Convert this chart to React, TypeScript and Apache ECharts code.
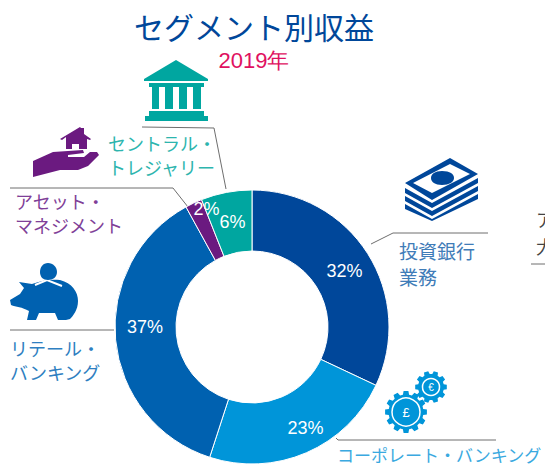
import React, { useEffect, useRef } from "react";
import * as echarts from "echarts";

const title = "セグメント別収益";
const subtitle = "2019年";
const categories = ["投資銀行業務", "コーポレート・バンキング", "リテール・バンキング", "アセット・マネジメント", "セントラル・トレジャリー"];
const values = [32, 23, 37, 2, 6];
const colors = ["#00479a", "#0095d9", "#0061b0", "#6b1a80", "#00a6a0"];

const F = '"Noto Sans CJK JP", "Noto Sans", sans-serif';
const labelOffsets: number[][] = [[0, 3], [10, 1], [2, -10], [1, -19], [1, 3]];

const bankD = "M144 79 L176 60 L208 79 L208 81 L144 81 Z M149 83 L204 83 L204 87 L149 87 Z M152 87 L159 87 L159 109 L152 109 Z M165 87 L173 87 L173 109 L165 109 Z M179 87 L187 87 L187 109 L179 109 Z M193 87 L201 87 L201 109 L193 109 Z M149 111 L204 111 L204 116 L149 116 Z M145 116 L208 116 L208 121 L145 121 Z";
const houseD = "M33 177 L33 161 L53 152 L83 150 L84 153 L68 155 L68 157 L84 157 L90 152 L97 152 L99 155 L88 166 L78 170 L60 170 Z M60 139 L80 127 L81 128 L84 128 L84 134 L91 139 L90 140 L87 139 L87 149 L66 149 L66 137 L62 140 Z M72 144 L72 149 L79 149 L79 144 Z";
const moneyD = "M405 183 L450 158 L478 174 L432 200 Z M413 183 L432 193 L470 174 L450 164 Z M405 188 L432 203 L478 178 L478 183 L432 208 L405 193 Z M405 196 L432 211 L478 186 L478 191 L432 216 L405 201 Z M405 204 L432 219 L478 194 L478 199 L432 221 L405 209 Z";
const moneyOvalD = "M442 171 C450 171 454 174 454 178 C454 182 449 185 442 185 C435 185 431 182 431 178 C431 174 435 171 442 171 Z";
const pigD = "M10 300 L20 294 L24 288 L19 282 L32 284 C42 280 52 279 60 280 C72 283 78 292 78 301 C78 310 73 316 70 319 L66 320 L58 320 L55 313 L39 313 L36 320 L27 320 L29 311 C22 307 16 307 11 305 Z";
const pigCoinD = "M48 263 C53 263 57 267 57 272 C57 277 53 280 48 280 C43 280 40 277 40 272 C40 267 43 263 48 263 Z";

function gear(cx: number, cy: number, rIn: number, rOut: number, teeth: number) {
  const p: string[] = [];
  for (let i = 0; i < teeth; i++) {
    const a = (i / teeth) * Math.PI * 2;
    const w = Math.PI / teeth / 1.6;
    [[rIn, a - w * 1.1], [rOut, a - w * 0.7], [rOut, a + w * 0.7], [rIn, a + w * 1.1]].forEach(([r, t]) => {
      p.push(`${(cx + r * Math.cos(t)).toFixed(1)} ${(cy + r * Math.sin(t)).toFixed(1)}`);
    });
  }
  return "M" + p.join(" L") + " Z";
}
const gear1D = gear(406, 412, 17.5, 21, 12);
const gear2D = gear(431, 387, 13, 16, 10);

const regs: [string, string][] = [
  ["bankIcon", bankD], ["houseIcon", houseD], ["moneyIcon", moneyD], ["moneyOval", moneyOvalD],
  ["pigIcon", pigD], ["pigCoin", pigCoinD], ["gear1", gear1D], ["gear2", gear2D],
];
regs.forEach(([n, d]) => echarts.graphic.registerShape(n, echarts.graphic.extendPath(d as any, {})));

const lineColor = "#6e6e6e";
const callout = (points: number[][]) => ({ type: "polyline", shape: { points }, style: { stroke: lineColor, lineWidth: 1, fill: "none" } });
const lab = (x: number, y: number, text: string, fill: string, size = 18, lineHeight = 24) => ({
  type: "text", x, y, style: { text, fill, font: `${size}px ${F}`, lineHeight, textVerticalAlign: "top" },
});

export default function App() {
  const ref = useRef<HTMLDivElement>(null);
  useEffect(() => {
    const chart = echarts.init(ref.current!, undefined, { renderer: "svg" });
    chart.setOption({
      animation: false,
      title: [
        { text: title, left: 249, top: 6, textAlign: "center", textStyle: { color: "#00479a", fontSize: 30, fontWeight: "normal", fontFamily: F } },
        { text: subtitle, left: 249, top: 44, textAlign: "center", textStyle: { color: "#e0115f", fontSize: 22, fontWeight: "normal", fontFamily: "Liberation Sans, sans-serif" } },
      ],
      series: [{
        type: "pie",
        center: [252, 327],
        radius: [76, 137],
        startAngle: 90,
        clockwise: true,
        silent: true,
        avoidLabelOverlap: false,
        labelLayout: { hideOverlap: false },
        itemStyle: { borderColor: "#ffffff", borderWidth: 1 },
        label: { show: true, position: "inside", formatter: "{d}%", color: "#fff", fontSize: 18, fontFamily: "Liberation Sans, sans-serif" },
        labelLine: { show: false },
        data: categories.map((name, i) => ({
          name, value: values[i], itemStyle: { color: colors[i] },
          label: { offset: labelOffsets[i] },
        })),
      }],
      graphic: [
        { type: "bankIcon", style: { fill: colors[4] } },
        { type: "houseIcon", style: { fill: colors[3] } },
        { type: "moneyIcon", style: { fill: colors[0] } },
        { type: "moneyOval", style: { fill: colors[0] } },
        { type: "pigIcon", style: { fill: colors[2] } },
        { type: "polyline", shape: { points: [[35, 285], [47, 280], [62, 286]] }, style: { stroke: "#fff", lineWidth: 2, fill: "none" } },
        { type: "pigCoin", style: { fill: colors[2] } },
        { type: "gear1", style: { fill: colors[1] } },
        { type: "circle", shape: { cx: 406, cy: 412, r: 14 }, style: { fill: colors[1], stroke: "#fff", lineWidth: 1.5 } },
        { type: "text", x: 406, y: 412, style: { text: "£", fill: "#fff", font: `13px Liberation Sans`, textAlign: "center", textVerticalAlign: "middle" } },
        { type: "gear2", style: { fill: colors[1] } },
        { type: "circle", shape: { cx: 431, cy: 387, r: 8.5 }, style: { fill: colors[1], stroke: "#fff", lineWidth: 1.5 } },
        { type: "text", x: 431, y: 387, style: { text: "€", fill: "#fff", font: `10px Liberation Sans`, textAlign: "center", textVerticalAlign: "middle" } },
        callout([[142, 127], [214, 128], [226, 189]]),
        callout([[10, 188], [173, 188], [188, 207]]),
        callout([[371, 244], [393, 233], [488, 233]]),
        callout([[10, 330], [114, 330]]),
        callout([[336, 438], [338, 440], [496, 440]]),
        callout([[531, 264], [545, 264]]),
        lab(108, 131, "セントラル・\nトレジャリー", "#2db5ae"),
        lab(15, 189, "アセット・\nマネジメント", "#7f3f98"),
        lab(399, 237, "投資銀行\n業務", "#3f7cb8", 19, 26),
        lab(10, 335.5, "リテール・\nバンキング", "#2f7fc1"),
        lab(337, 445, "コーポレート・バンキング", "#3aa9e0", 17, 18),
        lab(536, 205, "ア\n大", "#444444", 18, 27),
      ],
    });
    return () => chart.dispose();
  }, []);
  return <div ref={ref} style={{ position: "absolute", left: 0, top: 0, width: 545, height: 464 }} />;
}
